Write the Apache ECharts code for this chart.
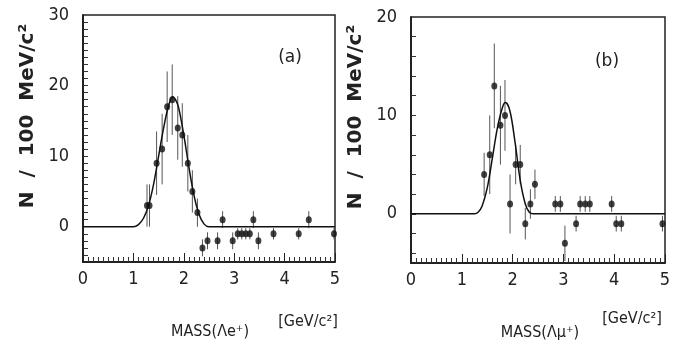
<!DOCTYPE html>
<html><head><meta charset="utf-8">
<script src="https://cdn.jsdelivr.net/npm/echarts@6/dist/echarts.min.js"></script>
<style>html,body{margin:0;padding:0;background:#fff}#c{width:677px;height:348px}</style>
</head><body><div id="c"></div>
<script>
// ---- data ----
const xTickLabels = [0, 1, 2, 3, 4, 5];
const yTickLabelsA = [0, 10, 20, 30];
const yTickLabelsB = [0, 10, 20];

// panel (a): Λe+
const massA = [1.27, 1.32, 1.46, 1.57, 1.67, 1.77, 1.88, 1.97, 2.08, 2.17, 2.27, 2.37, 2.47, 2.67, 2.77, 2.97, 3.07, 3.15, 3.23, 3.31, 3.38, 3.48, 3.78, 4.28, 4.48, 4.98];
const countA = [3, 3, 9, 11, 17, 18, 14, 13, 9, 5, 2, -3, -2, -2, 1, -2, -1, -1, -1, -1, 1, -2, -1, -1, 1, -1];
const errA   = [3, 3, 4.5, 5, 5, 5, 4.5, 4.5, 4, 3, 2, 1.2, 1.2, 1.2, 1.2, 1.2, 0.8, 0.8, 0.8, 0.8, 1.2, 1.2, 0.8, 0.8, 1.2, 0.8];
const fitMassA = [0, 1.0, 1.1, 1.2, 1.3, 1.4, 1.5, 1.6, 1.7, 1.78, 1.85, 1.9, 2.0, 2.1, 2.2, 2.3, 2.4, 2.5, 5];
const fitCountA = [0, 0, 0.3, 1.2, 3.0, 6.0, 10, 14, 17.2, 18.4, 17.8, 16.8, 13, 8.5, 4.5, 1.8, 0.4, 0, 0];

// panel (b): Λμ+
const massB = [1.44, 1.55, 1.64, 1.76, 1.85, 1.95, 2.06, 2.15, 2.25, 2.35, 2.44, 2.84, 2.94, 3.03, 3.25, 3.33, 3.43, 3.52, 3.95, 4.04, 4.14, 4.95];
const countB = [4, 6, 13, 9, 10, 1, 5, 5, -1, 1, 3, 1, 1, -3, -1, 1, 1, 1, 1, -1, -1, -1];
const errB   = [2.2, 4, 4.3, 4, 3.6, 3, 2, 2, 1.6, 1.5, 1.5, 0.8, 0.8, 1.8, 0.8, 0.8, 0.8, 0.8, 0.8, 0.8, 0.8, 0.8];
const fitMassB = [0, 1.25, 1.32, 1.4, 1.5, 1.6, 1.7, 1.8, 1.86, 1.95, 2.05, 2.15, 2.25, 2.33, 2.4, 5];
const fitCountB = [0, 0, 0.15, 0.8, 2.6, 5.6, 8.7, 10.8, 11.3, 10.4, 7.2, 3.4, 1.0, 0.15, 0, 0];

// ---- chart ----
const FONT = "'DejaVu Sans Condensed','Liberation Sans Narrow','DejaVu Sans',sans-serif";
const range = (a, b, s) => { const r = []; for (let v = a; v <= b + 1e-9; v += s) r.push(+v.toFixed(6)); return r; };

function xAxis(gi) {
  return {
    gridIndex: gi, type: 'value', min: 0, max: 5, interval: 1,
    axisLine: { show: true, onZero: false, lineStyle: { color: '#111', width: 1.5 } },
    axisTick: { show: true, inside: true, length: 9, lineStyle: { color: '#222', width: 1 } },
    minorTick: { show: true, splitNumber: 10, length: 5, lineStyle: { color: '#333', width: 1 } },
    splitLine: { show: false },
    axisLabel: { customValues: xTickLabels, fontFamily: FONT, fontSize: 18, color: '#222', margin: 8 }
  };
}
function yAxis(gi, min, max, labels, tickStep) {
  return {
    gridIndex: gi, type: 'value', min: min, max: max,
    axisLine: { show: true, onZero: false, lineStyle: { color: '#111', width: 1.5 } },
    axisTick: { show: true, inside: true, length: 5, customValues: range(min + 1, max - 1, 1).filter(v => (v % tickStep) === 0), lineStyle: { color: '#333' } },
    splitLine: { show: false },
    axisLabel: { customValues: labels, fontFamily: FONT, fontSize: 18, color: '#222', margin: 14 }
  };
}
function errSeries(xi, mass, cnt, err) {
  return {
    type: 'custom', xAxisIndex: xi, yAxisIndex: xi,
    data: mass.map((m, i) => [m, cnt[i] - err[i], cnt[i] + err[i]]),
    renderItem: (p, api) => {
      const lo = api.coord([api.value(0), api.value(1)]);
      const hi = api.coord([api.value(0), api.value(2)]);
      return { type: 'line', shape: { x1: lo[0], y1: lo[1], x2: hi[0], y2: hi[1] }, style: { stroke: '#555', lineWidth: 1 } };
    },
    silent: true, z: 2
  };
}
function ptSeries(xi, mass, cnt) {
  return { type: 'scatter', xAxisIndex: xi, yAxisIndex: xi, data: mass.map((m, i) => [m, cnt[i]]),
    symbol: 'circle', symbolSize: [6, 7], itemStyle: { color: '#111' }, z: 4 };
}
function fitSeries(xi, mass, cnt) {
  return { type: 'line', xAxisIndex: xi, yAxisIndex: xi, data: mass.map((m, i) => [m, cnt[i]]),
    smooth: 0.35, showSymbol: false, lineStyle: { color: '#111', width: 1.5 }, z: 3 };
}

const chart = echarts.init(document.getElementById('c'), null, { renderer: 'canvas' });
const tStyle = (txt, font) => ({ text: txt, font: font, fill: '#222', align: 'center', verticalAlign: 'middle' });
const TITLE_FONT = "bold 20px 'DejaVu Sans',sans-serif";
const LAB_FONT = "16px 'DejaVu Sans Condensed','Liberation Sans Narrow','Liberation Sans',sans-serif";
chart.setOption({
  backgroundColor: '#fff',
  animation: false,
  grid: [
    { left: 83, top: 15, width: 252, height: 247, show: true, borderColor: '#222', borderWidth: 1.5, backgroundColor: 'transparent' },
    { left: 411, top: 17, width: 254, height: 246, show: true, borderColor: '#222', borderWidth: 1.5, backgroundColor: 'transparent' }
  ],
  xAxis: [xAxis(0), xAxis(1)],
  yAxis: [yAxis(0, -5, 30, yTickLabelsA, 1), yAxis(1, -5, 20, yTickLabelsB, 2)],
  series: [
    fitSeries(0, fitMassA, fitCountA), errSeries(0, massA, countA, errA), ptSeries(0, massA, countA),
    fitSeries(1, fitMassB, fitCountB), errSeries(1, massB, countB, errB), ptSeries(1, massB, countB)
  ],
  graphic: [
    { type: 'text', x: 28, y: 116, rotation: Math.PI / 2, style: tStyle('N  /  100  MeV/c²', TITLE_FONT) },
    { type: 'text', x: 356, y: 117, rotation: Math.PI / 2, style: tStyle('N  /  100  MeV/c²', TITLE_FONT) },
    { type: 'text', x: 290, y: 58, style: tStyle('(a)', "17px 'DejaVu Sans',sans-serif") },
    { type: 'text', x: 607, y: 62, style: tStyle('(b)', "17px 'DejaVu Sans',sans-serif") },
    { type: 'text', x: 210, y: 332, style: tStyle('MASS(Λe⁺)', LAB_FONT) },
    { type: 'text', x: 308, y: 322, style: tStyle('[GeV/c²]', LAB_FONT) },
    { type: 'text', x: 540, y: 333, style: tStyle('MASS(Λμ⁺)', LAB_FONT) },
    { type: 'text', x: 632, y: 319, style: tStyle('[GeV/c²]', LAB_FONT) }
  ]
});
</script></body></html>
